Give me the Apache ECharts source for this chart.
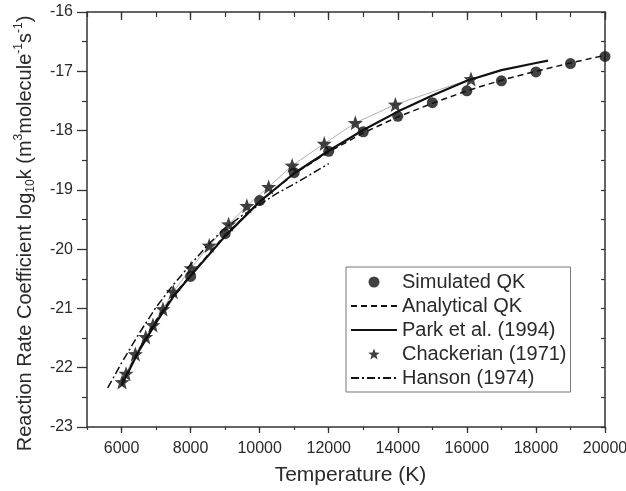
<!DOCTYPE html>
<html>
<head>
<meta charset="utf-8">
<script src="https://cdn.jsdelivr.net/npm/echarts@6/dist/echarts.min.js"></script>
<style>
html,body{margin:0;padding:0;background:#fff;}
#chart{width:626px;height:491px;}
</style>
</head>
<body>
<div id="chart"></div>
<script>
// ---- data ----
const xTickLabels = [6000, 8000, 10000, 12000, 14000, 16000, 18000, 20000];
const yTickLabels = [-23, -22, -21, -20, -19, -18, -17, -16];

const simT = [8000, 9000, 10000, 11000, 12000, 13000, 14000, 15000, 16000, 17000, 18000, 19000, 20000];
const simK = [-20.46, -19.74, -19.18, -18.71, -18.35, -18.02, -17.76, -17.53, -17.33, -17.16, -17.01, -16.87, -16.75];

const anaT = [6000, 6500, 7000, 7500, 8000, 9000, 10000, 11000, 12000, 13000, 14000, 15000, 16000, 17000, 18000, 19000, 20000];
const anaK = [-22.28, -21.70, -21.20, -20.78, -20.44, -19.76, -19.20, -18.73, -18.36, -18.04, -17.77, -17.54, -17.33, -17.15, -17.00, -16.86, -16.73];

const parkT = [6000, 6500, 7000, 7500, 8000, 9000, 10000, 11000, 12000, 13000, 14000, 15000, 16000, 17000, 18000, 18350];
const parkK = [-22.30, -21.72, -21.24, -20.80, -20.45, -19.78, -19.20, -18.72, -18.34, -17.99, -17.68, -17.41, -17.16, -16.98, -16.86, -16.82];

const chakT = [6015, 6130, 6400, 6700, 6910, 7200, 7500, 8015, 8540, 9100, 9630, 10260, 10940, 11870, 12770, 13930, 16120];
const chakK = [-22.24, -22.10, -21.77, -21.48, -21.28, -21.01, -20.72, -20.32, -19.94, -19.58, -19.27, -18.95, -18.59, -18.22, -17.87, -17.56, -17.13];

const hanT = [5600, 6000, 6500, 7000, 7500, 8000, 8500, 9000, 9500, 10000, 10500, 11000, 11500, 12000];
const hanK = [-22.34, -21.92, -21.43, -20.98, -20.60, -20.26, -19.93, -19.64, -19.43, -19.25, -19.06, -18.90, -18.73, -18.56];

const names = ['Simulated QK', 'Analytical QK', 'Park et al. (1994)', 'Chackerian (1971)', 'Hanson (1974)'];

const pair = (xs, ys) => xs.map((x, i) => [x, ys[i]]);
const star = 'path://M50,0 L63,35 L100,36 L71,59 L81,95 L50,74 L19,95 L29,59 L0,36 L37,35 Z';
const ink = '#111';
const axisColor = '#333';
const txt = '#2a2a2a';
const font = 'Liberation Sans, Arial, sans-serif';

const chart = echarts.init(document.getElementById('chart'), null, {renderer: 'canvas'});

const hidden = {show: false};
const baseX = {type: 'value', min: 5000, max: 20000, splitLine: hidden, axisLabel: hidden};
const noDot = {opacity: 0};

chart.setOption({
  backgroundColor: '#fff',
  animation: false,
  textStyle: {fontFamily: font},
  grid: {left: 87, right: 21, top: 12, bottom: 64, containLabel: false, outerBoundsMode: 'none'},
  xAxis: [
    {
      type: 'value', min: 5000, max: 20000, position: 'bottom',
      name: 'Temperature (K)', nameLocation: 'middle', nameGap: 38,
      nameTextStyle: {fontSize: 21, color: txt, fontFamily: font, padding: [0, 0, 0, 9]},
      axisLine: {show: true, lineStyle: {color: axisColor, width: 1.5}},
      axisTick: {show: true, inside: false, length: 6, customValues: xTickLabels, lineStyle: {color: axisColor, width: 1.3}},
      axisLabel: {show: true, customValues: xTickLabels, fontSize: 16, color: txt, margin: 14, fontFamily: font,
        formatter: v => String(v)},
      splitLine: hidden
    },
    Object.assign({}, baseX, {
      position: 'bottom', interval: 1000,
      axisLine: hidden,
      axisTick: {show: true, inside: false, length: 3, lineStyle: {color: axisColor, width: 1.2}}
    }),
    Object.assign({}, baseX, {
      position: 'top', interval: 1000,
      axisLine: {show: true, lineStyle: {color: axisColor, width: 1.5}},
      axisTick: {show: true, inside: true, length: 5, lineStyle: {color: axisColor, width: 1.2}}
    }),
    Object.assign({}, baseX, {
      position: 'top',
      axisLine: hidden,
      axisTick: {show: true, inside: true, length: 8, customValues: xTickLabels, lineStyle: {color: axisColor, width: 1.3}}
    })
  ],
  yAxis: [
    {
      type: 'value', min: -23, max: -16, interval: 1, position: 'left',
      name: 'Reaction Rate Coefficient log{sub|10}k (m{sup|3}molecule{sup|-1}s{sup|-1})',
      nameLocation: 'middle', nameGap: 50, nameRotate: 90,
      nameTextStyle: {
        fontSize: 20, color: txt, fontFamily: font, lineHeight: 24,
        padding: [0, 28, 0, 0],
        rich: {
          sub: {fontSize: 12, lineHeight: 12, verticalAlign: 'bottom', color: txt, fontFamily: font},
          sup: {fontSize: 12, lineHeight: 12, verticalAlign: 'top', color: txt, fontFamily: font}
        }
      },
      axisLine: {show: true, lineStyle: {color: axisColor, width: 1.5}},
      axisTick: {show: true, inside: false, length: 10, lineStyle: {color: axisColor, width: 1.3}},
      minorTick: {show: true, splitNumber: 2, length: 5, lineStyle: {color: axisColor, width: 1.2}},
      axisLabel: {show: true, fontSize: 16, color: txt, margin: 14, fontFamily: font,
        customValues: yTickLabels},
      splitLine: hidden, minorSplitLine: hidden
    },
    {
      type: 'value', min: -23, max: -16, interval: 0.5, position: 'right',
      axisLine: {show: true, lineStyle: {color: axisColor, width: 1.5}},
      axisTick: {show: true, inside: true, length: 4, lineStyle: {color: axisColor, width: 1.2}},
      axisLabel: hidden, splitLine: hidden
    }
  ],
  legend: {
    left: 346, top: 267, orient: 'vertical',
    data: [
      {name: names[0], icon: 'circle'},
      {name: names[1], itemStyle: noDot},
      {name: names[2], itemStyle: noDot},
      {name: names[3], icon: star},
      {name: names[4], itemStyle: noDot}
    ],
    itemWidth: 46, itemHeight: 11, itemGap: 4, itemTextGap: 5,
    padding: [5, 4, 4, 4],
    borderColor: '#777', borderWidth: 1, backgroundColor: '#fff', borderRadius: 0,
    textStyle: {fontSize: 20, lineHeight: 20, color: txt, fontFamily: font},
    selectedMode: false
  },
  series: [
    {
      name: names[3] + ' line', type: 'line', data: pair(chakT, chakK),
      showSymbol: false, symbol: 'none', z: 1,
      lineStyle: {color: '#a09a9a', width: 0.8}
    },
    {
      name: names[1], type: 'line', data: pair(anaT, anaK),
      symbol: 'none', z: 2, itemStyle: {color: ink},
      lineStyle: {color: ink, width: 1.5, type: [6, 4]}
    },
    {
      name: names[2], type: 'line', data: pair(parkT, parkK),
      symbol: 'none', z: 3, itemStyle: {color: ink},
      lineStyle: {color: ink, width: 2.2, type: 'solid'}
    },
    {
      name: names[4], type: 'line', data: pair(hanT, hanK),
      symbol: 'none', z: 3, itemStyle: {color: ink},
      lineStyle: {color: ink, width: 1.5, type: [8, 3, 2, 3]}
    },
    {
      name: names[0], type: 'scatter', data: pair(simT, simK),
      symbol: 'circle', symbolSize: 11, z: 4,
      itemStyle: {color: ink}
    },
    {
      name: names[3], type: 'scatter', data: pair(chakT, chakK),
      symbol: star, symbolSize: 15, z: 5,
      itemStyle: {color: ink}
    }
  ]
});
</script>
</body>
</html>
